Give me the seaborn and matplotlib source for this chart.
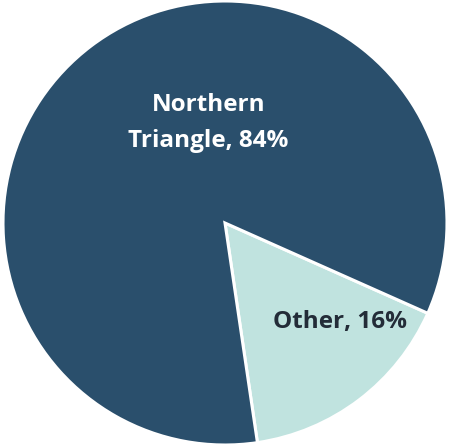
import matplotlib
matplotlib.use("Agg")
import matplotlib.pyplot as plt
import seaborn as sns

sns.set_theme(style="white")
plt.rcParams["font.family"] = ["Open Sans", "DejaVu Sans"]

categories = ["Other", "Northern Triangle"]
shares = [16, 84]
colors = ["#c0e3df", "#2a4f6c"]
text_colors = ["#232c38", "white"]
label_lines = ["Other, 16%", "Northern\nTriangle, 84%"]

W, H = 451, 446
fig = plt.figure(figsize=(W / 100, H / 100), dpi=100)
ax = fig.add_axes([0, 0, 1, 1])

R = 222.0
cx, cy = 225.0, 223.0

wedges, _ = ax.pie(
    shares,
    colors=colors,
    startangle=-24,
    counterclock=False,
    radius=1.0,
    wedgeprops=dict(edgecolor="white", linewidth=2.2),
)
ax.set_aspect("auto")
ax.set_xlim(-cx / R, (W - cx) / R)
ax.set_ylim(-(H - cy) / R, cy / R)
ax.axis("off")

label_pos = [(0.52, -0.445), (-0.075, 0.45)]
for text, (x, y), tc in zip(label_lines, label_pos, text_colors):
    ax.text(x, y, text, ha="center", va="center", color=tc,
            fontsize=17.5, fontweight="bold", linespacing=1.7)

fig.savefig("out.png", dpi=100, facecolor="white")
